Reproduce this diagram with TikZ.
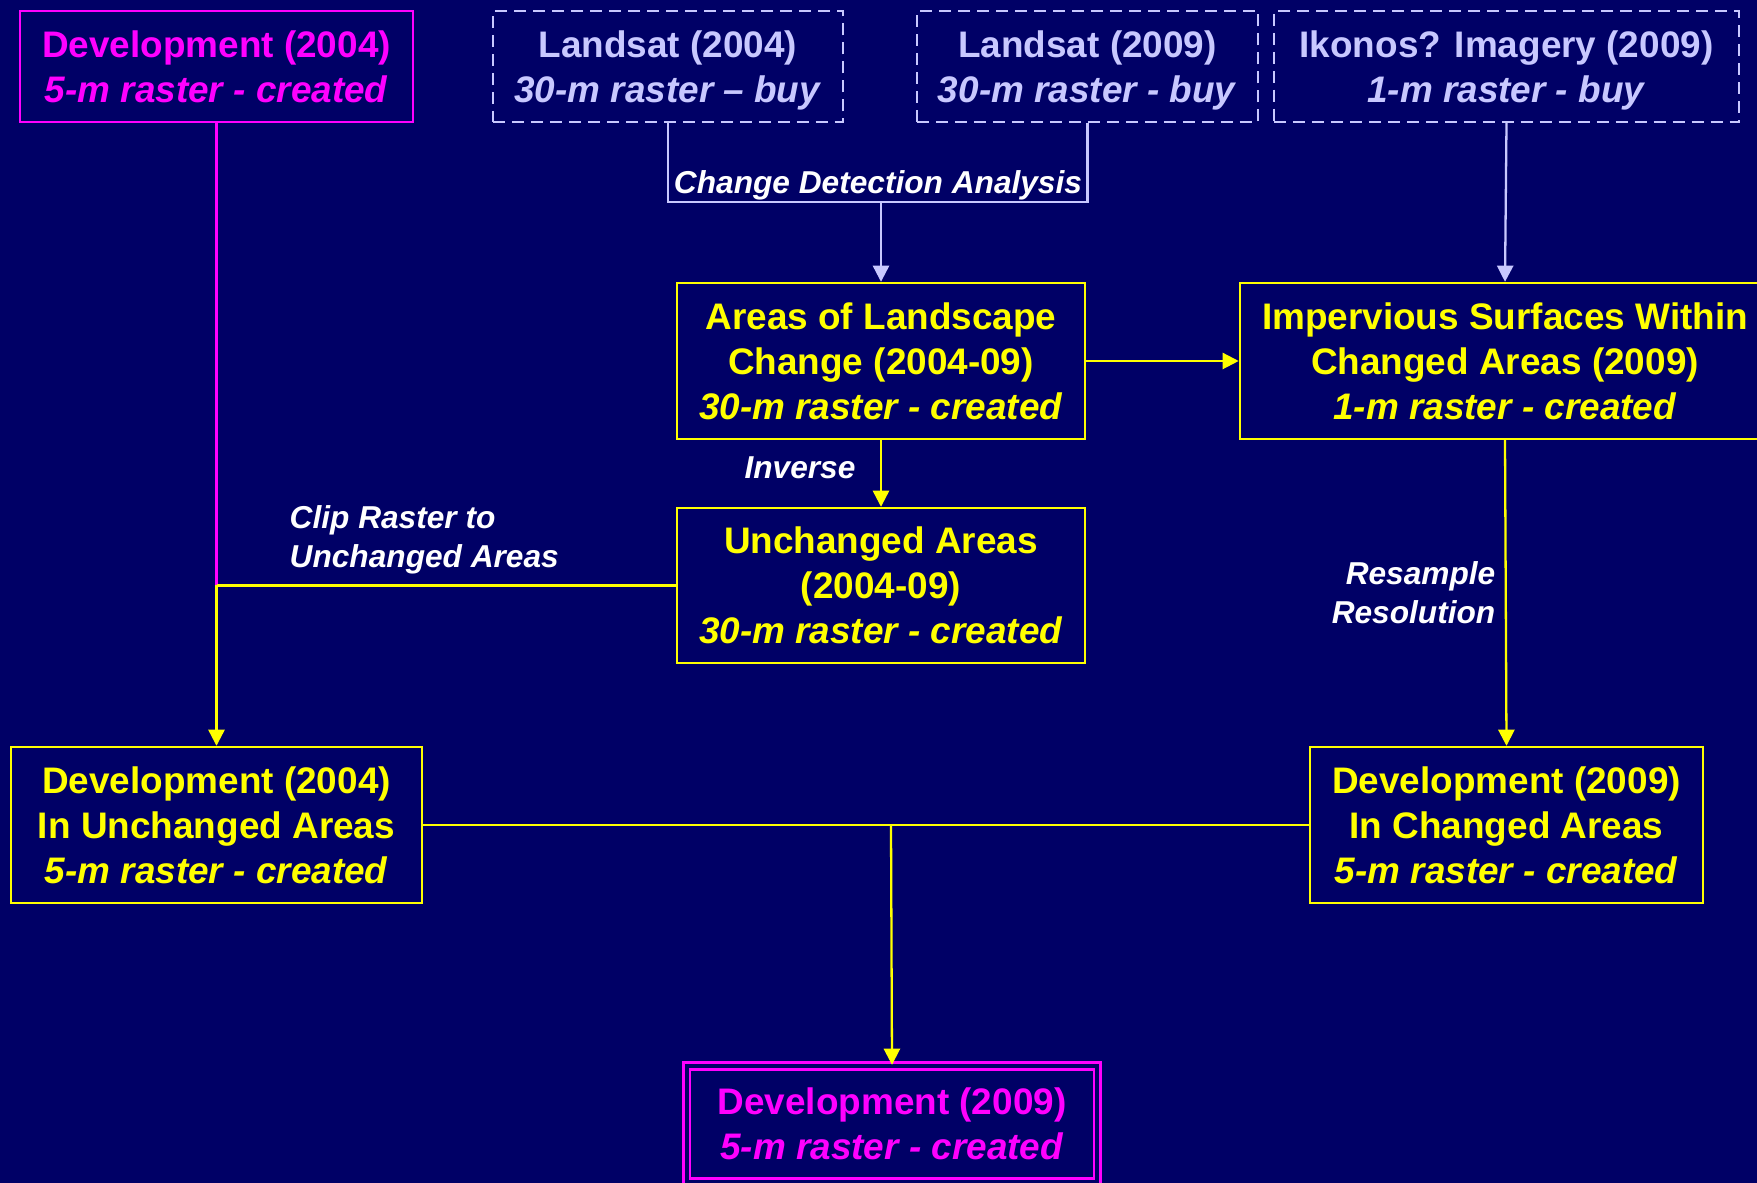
\documentclass[tikz,border=0pt]{standalone}
\usepackage{fontspec}
\setmainfont{Liberation Sans}
\usepackage{tikz}
\usetikzlibrary{arrows.meta}
\definecolor{navy}{RGB}{0,0,102}
\definecolor{lav}{RGB}{200,200,255}
\definecolor{mag}{RGB}{255,0,255}
\definecolor{yel}{RGB}{255,255,0}
\tikzstyle{arrow} = [line width=0.65pt,-{Triangle[width=4.6pt,length=4.6pt]}]
\tikzstyle{line} = [line width=0.65pt]
\tikzstyle{box} = [draw, line width=0.65pt, inner sep=0pt, align=center, font=\fontsize{10.5pt}{12.75pt}\selectfont\bfseries]
\tikzstyle{buybox} = [box, draw=lav, text=lav, dash pattern=on 3.4pt off 2pt, minimum height=1.11cm, text depth=0pt]
\tikzstyle{ybox} = [box, draw=yel, text=yel, minimum height=1.56cm]
\tikzstyle{mbox} = [box, draw=mag, text=mag]
\tikzstyle{lbl} = [text=white, inner sep=0pt, font=\fontsize{9pt}{11pt}\selectfont\bfseries\itshape]

\begin{document}
\begin{tikzpicture}[x=0.01cm,y=-0.01cm]
\useasboundingbox (0,0) rectangle (1757,1183);
\fill[navy] (0,0) rectangle (1757,1183);

\node[mbox, minimum width=3.93cm, minimum height=1.11cm] (dev04) at (216.5,66.5) {Development (2004)\\\textit{5-m raster - created}};
\node[buybox, minimum width=3.5cm] (ls04) at (668,66.5) {Landsat (2004)\\\textit{30-m raster -- buy}};
\node[buybox, minimum width=3.41cm] (ls09) at (1087.5,66.5) {Landsat (2009)\\\textit{30-m raster - buy}};
\node[buybox, minimum width=4.65cm] (ikon) at (1506.5,66.5) {Ikonos? Imagery (2009)\\\textit{1-m raster - buy}};

\node[ybox, minimum width=4.08cm] (areas) at (881,361) {Areas of Landscape\\Change (2004-09)\\\textit{30-m raster - created}};
\node[ybox, minimum width=5.3cm] (imperv) at (1505,361) {Impervious Surfaces Within\\Changed Areas (2009)\\\textit{1-m raster - created}};
\node[ybox, minimum width=4.08cm, minimum height=1.55cm] (unch) at (881,585.5) {Unchanged Areas\\(2004-09)\\\textit{30-m raster - created}};
\node[ybox, minimum width=4.11cm] (dev04u) at (216.5,825) {Development (2004)\\In Unchanged Areas\\\textit{5-m raster - created}};
\node[ybox, minimum width=3.93cm] (dev09c) at (1506.5,825) {Development (2009)\\In Changed Areas\\\textit{5-m raster - created}};
\node[mbox, double=navy, double distance=1.3pt, minimum width=4.1cm, minimum height=1.16cm] (dev09) at (892,1124) {Development (2009)\\\textit{5-m raster - created}};

\coordinate (cd) at (881,202);
\coordinate (clip) at (216.5,585.5);
\coordinate (mrg) at (891,825);

\draw[line, lav] (ls04.south) |- (cd) -| (ls09.south);
\draw[arrow, lav] (cd) -- (areas.north);
\draw[arrow, lav] (ikon.south) -- (imperv.north);
\draw[arrow, yel] (areas.east) -- (imperv.west);
\draw[arrow, yel] (areas.south) -- (unch.north);
\draw[line, mag] (dev04.south) -- (clip);
\draw[line, yel] (unch.west) -- (clip);
\draw[arrow, yel] (clip) -- (dev04u.north);
\draw[arrow, yel] (imperv.south) -- (dev09c.north);
\draw[line, yel] (dev04u.east) -- (dev09c.west);
\draw[arrow, yel] (mrg) -- (dev09.north);

\node[lbl] (cdlbl) at (878,185) {Change Detection Analysis};
\node[lbl] (invlbl) at (800,468) {Inverse};
\node[lbl, anchor=west, align=left] (cliplbl) at (289,539.5) {Clip Raster to\\Unchanged Areas};
\node[lbl, anchor=east, align=right] (reslbl) at (1496,593) {Resample\\Resolution};
\end{tikzpicture}
\end{document}
